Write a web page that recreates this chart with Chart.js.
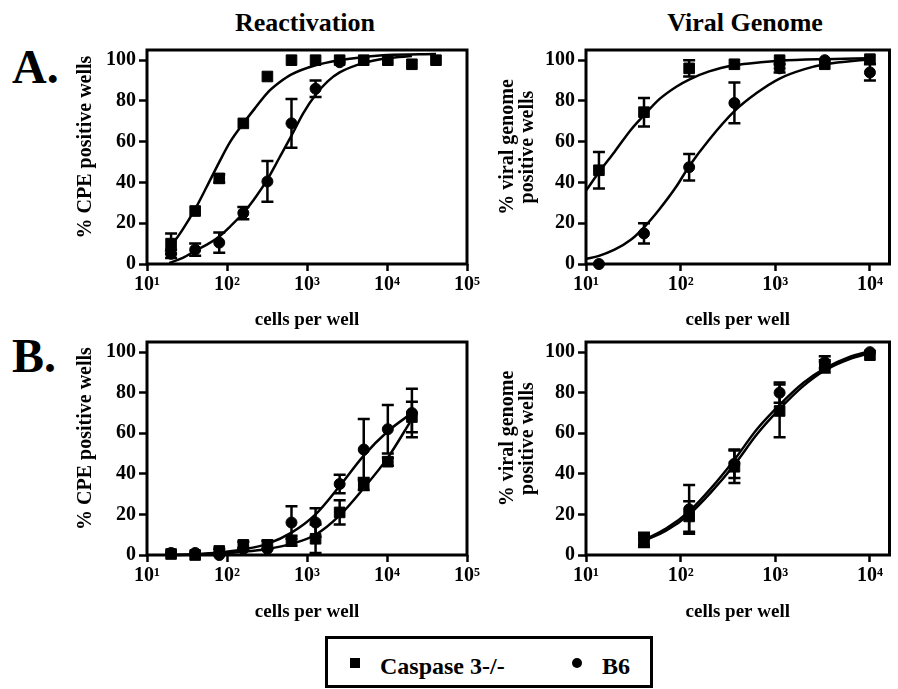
<!DOCTYPE html>
<html>
<head>
<meta charset="utf-8">
<script src="https://cdn.jsdelivr.net/npm/chart.js@4.4.0/dist/chart.umd.min.js"></script>
<style>
  body { margin: 0; background: #fff; }
  #page { position: relative; width: 898px; height: 689px; overflow: hidden; font-family: "Liberation Serif", "Times New Roman", serif; font-weight: bold; color: #000; }
  canvas { position: absolute; }
  .txt { position: absolute; white-space: nowrap; }
  .title { font-size: 26px; line-height: 26px; text-align: center; top: 10px; }
  .letter { font-size: 48px; line-height: 48px; left: 12px; }
  #legend { position: absolute; left: 325px; top: 636px; width: 328px; height: 52px; box-sizing: border-box; border: 3px solid #000; }
  #legend .txt { font-size: 24px; line-height: 24px; top: 15px; }
  .mark { position: absolute; top: 19px; width: 10px; height: 10px; background: #000; }
</style>
</head>
<body>
<div id="page">
  <div class="txt title" style="left:0; width:610px;">Reactivation</div>
  <div class="txt title" style="left:490px; width:510px;">Viral Genome</div>
  <div class="txt letter" style="top:43px;">A.</div>
  <div class="txt letter" style="top:332px;">B.</div>

  <canvas id="reactA"></canvas>
  <canvas id="genomeA"></canvas>
  <canvas id="reactB"></canvas>
  <canvas id="genomeB"></canvas>

  <div id="legend">
    <div class="mark" style="left:22px;"></div>
    <div class="txt" style="left:52px;">Caspase 3-/-</div>
    <div class="mark" style="left:244px; border-radius:50%;"></div>
    <div class="txt" style="left:274px;">B6</div>
  </div>
</div>

<script>
// ---- data ----

// A, reactivation: 2-fold dilutions
const reactA_cells = [20, 40, 80, 160, 320, 640, 1280, 2560, 5120, 10240, 20480, 40960];
const reactA_casp = [10, 26, 42, 69, 92, 100, 100, 100, 100, 100, 98, 100];
const reactA_caspErr = [5, 0, 2, 0, 0, 0, 0, 0, 0, 0, 0, 0];
const reactA_b6Cells = [20, 40, 80, 160, 320, 640, 1280, 2560];
const reactA_b6 = [5, 7, 10.5, 25, 40.5, 69, 86, 99];
const reactA_b6Err = [2, 3, 5, 3, 10, 12, 4, 0];
const reactA_fitCaspX = [17, 20, 28, 40, 56, 80, 110, 160, 230, 320, 450, 640, 1280, 2560, 5120, 10240, 40960];
const reactA_fitCaspY = [6, 9, 17, 27, 38, 50, 60, 69, 77, 84, 89, 93, 97.5, 100, 101.5, 102.5, 103];
const reactA_fitB6X = [19, 28, 40, 56, 80, 110, 160, 230, 320, 450, 640, 900, 1280, 1800, 2560, 5120, 10240, 20480];
const reactA_fitB6Y = [0.5, 3, 6.5, 9.5, 13.5, 18.5, 25, 33, 41.5, 52, 63, 74, 83, 89.5, 94, 98.7, 101, 102];

// A, viral genome: 3-fold dilutions
const genomeA_cells = [13.7, 41, 123, 370, 1111, 3333, 10000];
const genomeA_casp = [46, 74.5, 96, 98, 100, 98, 100.5];
const genomeA_caspErr = [9, 7, 4, 0, 0, 0, 0];
const genomeA_b6 = [0, 15, 47.5, 79, 96, 100, 94];
const genomeA_b6Err = [0, 5, 6.5, 10, 2, 0, 4];
const genomeA_fitCaspX = [10, 13.7, 20, 30, 41, 60, 90, 123, 200, 370, 700, 1111, 3333, 10000];
const genomeA_fitCaspY = [36, 45, 55, 66, 73, 81, 87, 90.5, 94.5, 97.5, 99, 99.7, 100.5, 101];
const genomeA_fitB6X = [10, 13.7, 20, 30, 41, 60, 90, 123, 200, 370, 640, 1111, 2000, 3333, 10000];
const genomeA_fitB6Y = [2.5, 4, 7, 12, 18, 27, 38, 48, 61, 75, 84, 91, 95.5, 98, 100.5];

// B, reactivation
const reactB_cells = [20, 40, 80, 160, 320, 640, 1280, 2560, 5120, 10240, 20480];
const reactB_casp = [0.5, 0, 2, 5, 5, 7, 8, 21, 35, 46, 68];
const reactB_caspErr = [0, 0, 1, 1.5, 2, 2.5, 7, 6, 3, 2, 7.5];
const reactB_b6 = [1, 1, 0, 3, 3, 16, 16, 35, 52, 62, 70];
const reactB_b6Err = [0, 0, 0, 0, 0, 8, 7, 4.5, 15, 12, 12];
const reactB_fitX = [19, 40, 80, 160, 320, 640, 1280, 2560, 5120, 10240, 20480];
const reactB_fitCaspY = [0, 0.2, 0.7, 1.6, 3, 5.5, 10, 19.5, 33, 48, 67];
const reactB_fitB6Y = [0, 0.4, 1.2, 2.8, 5.5, 11, 20, 34, 49, 61, 70];

// B, viral genome
const genomeB_cells = [41, 123, 370, 1111, 3333, 10000];
const genomeB_casp = [7, 19, 43.5, 71, 93, 98.5];
const genomeB_caspErr = [3, 7.5, 8, 13, 3, 0];
const genomeB_b6 = [8, 22.5, 45, 80, 95, 100];
const genomeB_b6Err = [3, 12, 7, 5, 3, 0];
const genomeB_fitX = [41, 70, 123, 210, 370, 640, 1111, 2000, 3333, 6000, 10000];
const genomeB_fitCaspY = [7, 12, 20, 31, 44.5, 59.5, 72, 83.5, 91, 96.5, 99.5];
const genomeB_fitB6Y = [7.5, 13, 21.5, 33, 47, 62, 74, 85, 92, 97.5, 100.5];

const yTicks = [0, 20, 40, 60, 80, 100];
const xTicksWide = [10, 100, 1000, 10000, 100000];
const xTicksShort = [10, 100, 1000, 10000];
const sup = { 1: '\u00b9', 2: '\u00b2', 3: '\u00b3', 4: '\u2074', 5: '\u2075' };

// ---- helpers ----

Chart.defaults.font.family = "'Liberation Serif', 'Times New Roman', serif";
Chart.defaults.font.weight = 'bold';
Chart.defaults.color = '#000';

function pts(xs, ys) {
    return xs.map((x, i) => ({ x: x, y: ys[i] }));
}

function markers(xs, ys, errs, style) {
    return {
        data: pts(xs, ys),
        errors: errs,
        pointStyle: style,
        pointRadius: style === 'rect' ? 7.5 : 5.5,
        backgroundColor: '#000',
        borderColor: '#000',
        borderWidth: 1,
        showLine: false,
        clip: false
    };
}

function curve(xs, ys) {
    return {
        data: pts(xs, ys),
        showLine: true,
        pointRadius: 0,
        borderColor: '#000',
        borderWidth: 2.5,
        cubicInterpolationMode: 'monotone',
        clip: false
    };
}

const frame = {
    id: 'frame',
    beforeDatasetsDraw(chart) {
        const a = chart.chartArea, ctx = chart.ctx;
        ctx.save();
        ctx.lineWidth = 3;
        ctx.strokeStyle = '#000';
        ctx.strokeRect(a.left, a.top, a.right - a.left, a.bottom - a.top);
        ctx.restore();
    }
};

const errorBars = {
    id: 'errorBars',
    afterDatasetsDraw(chart) {
        const ctx = chart.ctx, xs = chart.scales.x, ys = chart.scales.y;
        ctx.save();
        ctx.strokeStyle = '#000';
        ctx.lineWidth = 2.5;
        chart.data.datasets.forEach(ds => {
            if (!ds.errors) return;
            ds.data.forEach((p, i) => {
                const e = ds.errors[i];
                if (!e) return;
                const px = xs.getPixelForValue(p.x);
                const top = ys.getPixelForValue(p.y + e);
                const bot = ys.getPixelForValue(p.y - e);
                ctx.beginPath();
                ctx.moveTo(px, top); ctx.lineTo(px, bot);
                ctx.moveTo(px - 6, top); ctx.lineTo(px + 6, top);
                ctx.moveTo(px - 6, bot); ctx.lineTo(px + 6, bot);
                ctx.stroke();
            });
        });
        ctx.restore();
    }
};

// box = canvas rect on the page, area = wanted plot rect on the page
function makePanel(id, box, area, xMax, xTicks, yTitle, yTitleSize, datasets) {
    const cv = document.getElementById(id);
    cv.width = box.w;
    cv.height = box.h;
    cv.style.left = box.x + 'px';
    cv.style.top = box.y + 'px';

    new Chart(cv, {
        type: 'scatter',
        data: { datasets: datasets },
        options: {
            responsive: false,
            animation: false,
            devicePixelRatio: 1,
            layout: { padding: { left: 0, top: area.t - box.y, right: box.x + box.w - area.r, bottom: 0 } },
            plugins: { legend: { display: false }, tooltip: { enabled: false } },
            scales: {
                x: {
                    type: 'logarithmic',
                    min: 10,
                    max: xMax,
                    border: { display: false },
                    grid: { drawOnChartArea: false, tickLength: 7, tickWidth: 2.5, tickColor: '#000' },
                    ticks: { font: { size: 20 }, padding: 2, maxRotation: 0, autoSkip: false,
                        callback: (v) => '10' + sup[Math.round(Math.log10(v))] },
                    afterBuildTicks: (s) => { s.ticks = xTicks.map(v => ({ value: v })); },
                    afterFit: (s) => { s.height = box.y + box.h - area.b; },
                    title: { display: true, text: 'cells per well', font: { size: 19 }, padding: 0 }
                },
                y: {
                    min: 0,
                    max: 105,
                    border: { display: false },
                    grid: { drawOnChartArea: false, tickLength: 8, tickWidth: 2.5, tickColor: '#000' },
                    ticks: { font: { size: 20 }, padding: 3, stepSize: 20 },
                    afterBuildTicks: (s) => { s.ticks = yTicks.map(v => ({ value: v })); },
                    afterFit: (s) => { s.width = area.l - box.x; },
                    title: { display: true, text: yTitle, font: { size: yTitleSize, lineHeight: 1.0 }, padding: 0 }
                }
            }
        },
        plugins: [frame, errorBars]
    });
}

makePanel('reactA', { x: 76, y: 30, w: 406, h: 301 }, { l: 147, t: 50, r: 467, b: 264 },
    100000, xTicksWide, '    % CPE positive wells', 20, [
        markers(reactA_cells, reactA_casp, reactA_caspErr, 'rect'),
        markers(reactA_b6Cells, reactA_b6, reactA_b6Err, 'circle'),
        curve(reactA_fitCaspX, reactA_fitCaspY),
        curve(reactA_fitB6X, reactA_fitB6Y)
    ]);

makePanel('genomeA', { x: 498, y: 30, w: 400, h: 301 }, { l: 586, t: 50, r: 896, b: 264 },
    16100, xTicksShort, ['    % viral genome', '    positive wells'], 20, [
        markers(genomeA_cells, genomeA_casp, genomeA_caspErr, 'rect'),
        markers(genomeA_cells, genomeA_b6, genomeA_b6Err, 'circle'),
        curve(genomeA_fitCaspX, genomeA_fitCaspY),
        curve(genomeA_fitB6X, genomeA_fitB6Y)
    ]);

makePanel('reactB', { x: 76, y: 322, w: 406, h: 301 }, { l: 147, t: 342, r: 467, b: 555 },
    100000, xTicksWide, '    % CPE positive wells', 20, [
        markers(reactB_cells, reactB_casp, reactB_caspErr, 'rect'),
        markers(reactB_cells, reactB_b6, reactB_b6Err, 'circle'),
        curve(reactB_fitX, reactB_fitCaspY),
        curve(reactB_fitX, reactB_fitB6Y)
    ]);

makePanel('genomeB', { x: 498, y: 322, w: 400, h: 301 }, { l: 586, t: 342, r: 896, b: 555 },
    16100, xTicksShort, ['    % viral genome', '    positive wells'], 20, [
        markers(genomeB_cells, genomeB_casp, genomeB_caspErr, 'rect'),
        markers(genomeB_cells, genomeB_b6, genomeB_b6Err, 'circle'),
        curve(genomeB_fitX, genomeB_fitCaspY),
        curve(genomeB_fitX, genomeB_fitB6Y)
    ]);
</script>
</body>
</html>
